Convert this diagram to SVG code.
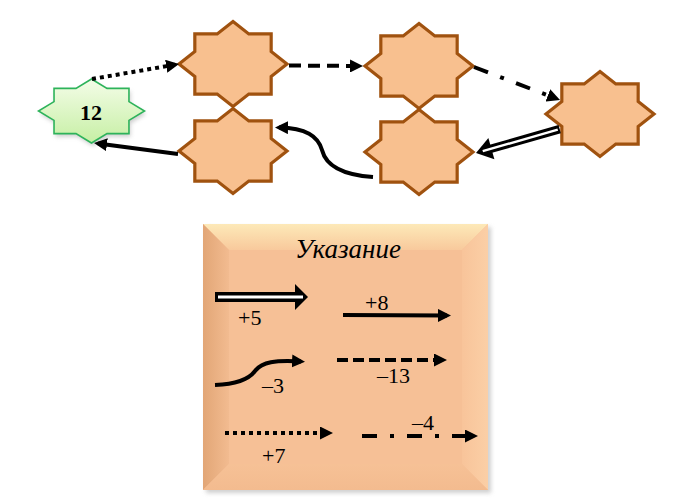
<svg xmlns="http://www.w3.org/2000/svg" xmlns:xlink="http://www.w3.org/1999/xlink" width="700" height="500" viewBox="0 0 700 500">
<style>
.star{fill:#f8c08f;stroke:#a0520f;stroke-width:3.2;stroke-linejoin:miter}
.ln{fill:none;stroke:#000;stroke-width:4;marker-end:url(#ah)}
.dot{stroke-dasharray:4 4}
.dash{stroke-dasharray:12 7}
.dd{stroke-dasharray:15 13 4 13}
.lbl{font-family:"Liberation Serif","Times New Roman",serif;font-size:22px;fill:#000}
</style>
<defs>
<path id="st8" d="M0,-42.5 L15.81,-30.04 L38.18,-30.05 L38.17,-12.44 L54,0 L38.17,12.44 L38.18,30.05 L15.81,30.04 L0,42.5 L-15.81,30.04 L-38.18,30.05 L-38.17,12.44 L-54,0 L-38.17,-12.44 L-38.18,-30.05 L-15.81,-30.04 Z"/>
<marker id="ah" viewBox="0 0 13 13" refX="9" refY="6.5" markerWidth="13" markerHeight="13" markerUnits="userSpaceOnUse" orient="auto"><path d="M0,0 L13,6.5 L0,13 Z" fill="#000"/></marker>
<linearGradient id="gGreen" x1="0" y1="0" x2="0" y2="1"><stop offset="0" stop-color="#f4fde8"/><stop offset="1" stop-color="#c6efa4"/></linearGradient>
<linearGradient id="gTop" x1="0" y1="0" x2="0" y2="1"><stop offset="0" stop-color="#fde9b8"/><stop offset="1" stop-color="#f8c99c"/></linearGradient>
<linearGradient id="gLeft" x1="0" y1="0" x2="1" y2="0"><stop offset="0" stop-color="#e2a676"/><stop offset="1" stop-color="#f2bb90"/></linearGradient>
<linearGradient id="gRight" x1="0" y1="0" x2="1" y2="0"><stop offset="0" stop-color="#f8c49a"/><stop offset="1" stop-color="#fbcfa6"/></linearGradient>
<linearGradient id="gBot" x1="0" y1="0" x2="0" y2="1"><stop offset="0" stop-color="#f6c196"/><stop offset="1" stop-color="#f3bb8f"/></linearGradient>
<filter id="sh" x="-20%" y="-20%" width="140%" height="150%"><feGaussianBlur stdDeviation="2"/></filter>
</defs>

<g id="node-12">
<path transform="translate(93,114)" filter="url(#sh)" fill="#9a9a9a" opacity="0.5" d="M0,-32 L15.52,-22.62 L37.48,-22.63 L37.46,-9.37 L53,0 L37.46,9.37 L37.48,22.63 L15.52,22.62 L0,32 L-15.52,22.62 L-37.48,22.63 L-37.46,9.37 L-53,0 L-37.46,-9.37 L-37.48,-22.63 L-15.52,-22.62 Z"/>
<path transform="translate(91.5,111)" fill="url(#gGreen)" stroke="#2db35a" stroke-width="1.6" d="M0,-32 L15.52,-22.62 L37.48,-22.63 L37.46,-9.37 L53,0 L37.46,9.37 L37.48,22.63 L15.52,22.62 L0,32 L-15.52,22.62 L-37.48,22.63 L-37.46,9.37 L-53,0 L-37.46,-9.37 L-37.48,-22.63 L-15.52,-22.62 Z"/>
<text x="91" y="119.5" text-anchor="middle" font-family="'Liberation Serif','Times New Roman',serif" font-weight="bold" font-size="22">12</text>
</g>
<g id="node-a"><use xlink:href="#st8" href="#st8" class="star" transform="translate(233,64)"/></g>
<g id="node-b"><use xlink:href="#st8" href="#st8" class="star" transform="translate(419,66)"/></g>
<g id="node-c"><use xlink:href="#st8" href="#st8" class="star" transform="translate(600,114)"/></g>
<g id="node-d"><use xlink:href="#st8" href="#st8" class="star" transform="translate(419,152)"/></g>
<g id="node-e"><use xlink:href="#st8" href="#st8" class="star" transform="translate(233,151)"/></g>

<g id="connectors">
<path class="ln dot" d="M92,79 L175.1,64.7"/>
<path class="ln dash" d="M289,65.5 L359,66"/>
<path class="ln dd" d="M474,67 L556.3,98.6"/>
<g transform="translate(476,153) rotate(-15.9)">
<line x1="10" y1="0" x2="87" y2="0" stroke="#000" stroke-width="8.5"/>
<path d="M0,0 L16,-11 L16,11 Z" fill="#000"/>
<line x1="7" y1="0" x2="85" y2="0" stroke="#fff" stroke-width="2.4"/>
</g>
<path class="ln" d="M373,177 C343,175 326,166 322,150 C318,136 306,128 279,127.5"/>
<path class="ln" d="M178,154 L98,143.5"/>
</g>

<g id="legend">
<rect x="206" y="227" width="285" height="266" fill="#b0b0b0" opacity="0.6" filter="url(#sh)"/>
<rect x="203" y="224" width="285" height="266" fill="#f6c096"/>
<polygon points="203,224 488,224 462,250 229,250" fill="url(#gTop)"/>
<polygon points="203,224 229,250 229,464 203,490" fill="url(#gLeft)"/>
<polygon points="488,224 488,490 462,464 462,250" fill="url(#gRight)"/>
<polygon points="203,490 488,490 462,464 229,464" fill="url(#gBot)"/>
<text x="348" y="258" text-anchor="middle" font-family="'Liberation Serif','Times New Roman',serif" font-style="italic" font-size="27">Указание</text>

<line x1="215" y1="297" x2="297" y2="297" stroke="#000" stroke-width="10"/>
<path d="M295,284 L308,297 L295,310 Z" fill="#000"/>
<line x1="218" y1="297" x2="303" y2="297" stroke="#fff" stroke-width="3"/>
<text class="lbl" x="238" y="325">+5</text>

<path class="ln" d="M343,315 L447,315.5"/>
<text class="lbl" x="365" y="310">+8</text>

<path class="ln" d="M215,385 C240,384 250,378 255,371 C262,362 275,360 301,361.5"/>
<text class="lbl" x="262" y="393">–3</text>

<path class="ln" style="stroke-dasharray:11 5" d="M337,360 L443,360"/>
<text class="lbl" x="377" y="383">–13</text>

<path class="ln dot" d="M225,433 L329,433"/>
<text class="lbl" x="262" y="463">+7</text>

<path class="ln dd" d="M362,436 L474,436"/>
<text class="lbl" x="412" y="430">–4</text>
</g>
</svg>
